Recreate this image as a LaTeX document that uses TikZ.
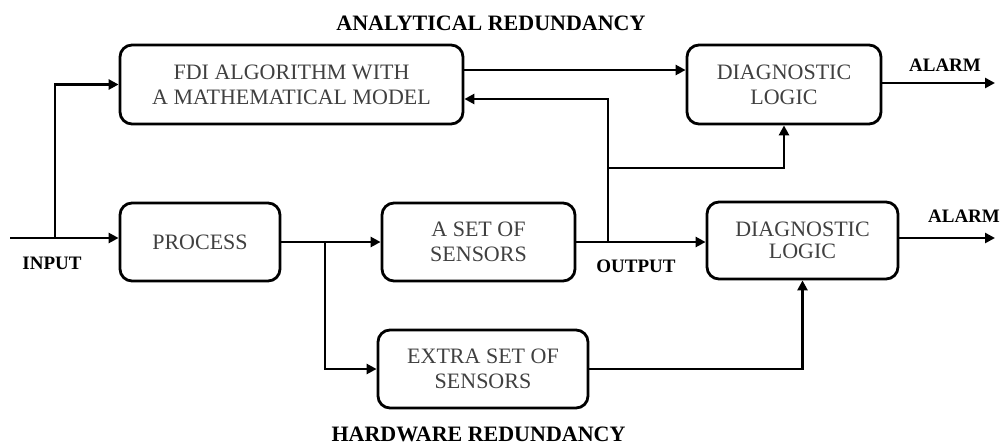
\documentclass[tikz,border=0pt]{standalone}
\usepackage{fontspec}
\setmainfont{Liberation Serif}
\usetikzlibrary{arrows.meta}
\definecolor{boxtext}{HTML}{404040}
\tikzset{
  blk/.style={draw=black, line width=2.8pt, rounded corners=12pt, align=center,
    text=boxtext, font=\fontsize{22}{25}\selectfont, inner sep=0pt},
  lbl/.style={text=black, font=\fontsize{22}{25}\selectfont\bfseries, inner sep=0pt},
  sml/.style={text=black, font=\fontsize{19}{22}\selectfont\bfseries, inner sep=0pt},
  wire/.style={line width=2.6pt, line join=miter},
  arr/.style={wire, -{Triangle[length=10pt,width=10pt]}}
}
\begin{document}
\begin{tikzpicture}[x=1pt, y=-1pt]
  \useasboundingbox (0,0) rectangle (1007,445);

  % blocks
  \node[blk, minimum width=343pt, minimum height=79pt] (fdi) at (291.5,84.5)
    {FDI ALGORITHM WITH\\A MATHEMATICAL MODEL};
  \node[blk, minimum width=194pt, minimum height=79pt] (dg1) at (784,84.5)
    {DIAGNOSTIC\\LOGIC};
  \node[blk, minimum width=160pt, minimum height=78pt] (proc) at (200,242)
    {PROCESS};
  \node[blk, minimum width=193pt, minimum height=78pt] (sens) at (478.5,242)
    {A SET OF\\SENSORS};
  \node[blk, minimum width=210pt, minimum height=78pt] (extra) at (483,369)
    {EXTRA SET OF\\SENSORS};
  \node[blk, minimum width=191pt, minimum height=77pt,
        font=\fontsize{22}{22}\selectfont] (dg2) at (802.5,240.5)
    {DIAGNOSTIC\\LOGIC};

  % labels
  \node[lbl] (ttl) at (491,23.5) {ANALYTICAL REDUNDANCY};
  \node[lbl] (btl) at (478.5,434) {HARDWARE REDUNDANCY};
  \node[sml] (inl) at (52,263.5) {INPUT};
  \node[sml] (outl) at (636,266.5) {OUTPUT};
  \node[sml] (al1) at (945,65.5) {ALARM};
  \node[sml] (al2) at (964,216) {ALARM};

  % free ends and junctions
  \coordinate (in) at (10,238);
  \coordinate (jin) at (55,238);
  \coordinate (jp) at (325,242);
  \coordinate (jo) at (608,242);
  \coordinate (jb) at (608,168);
  \coordinate (o1) at (995,83);
  \coordinate (o2) at (995,238);

  % input path and analytical branch
  \draw[arr] (in) -- (in -| proc.west);
  \draw[arr] (jin) |- (fdi.west);

  % process to both sensor sets
  \draw[arr] (proc.east |- jp) -- (jp -| sens.west);
  \draw[arr] (jp) |- (extra.west);

  % model output to the first diagnostic logic
  \draw[arr] ([yshift=14.5pt]fdi.east) -- ([yshift=14.5pt]fdi.east -| dg1.west);

  % measured output
  \draw[arr] (sens.east |- jo) -- (jo -| dg2.west);
  \draw[arr] (jo) |- ([yshift=-14.5pt]fdi.east);
  \draw[arr] (jb) -| (dg1.south);

  % extra sensors to the second diagnostic logic
  \draw[arr] (extra.east) -| (dg2.south);

  % alarms
  \draw[arr] (dg1.east |- o1) -- (o1);
  \draw[arr] (dg2.east |- o2) -- (o2);
\end{tikzpicture}
\end{document}
